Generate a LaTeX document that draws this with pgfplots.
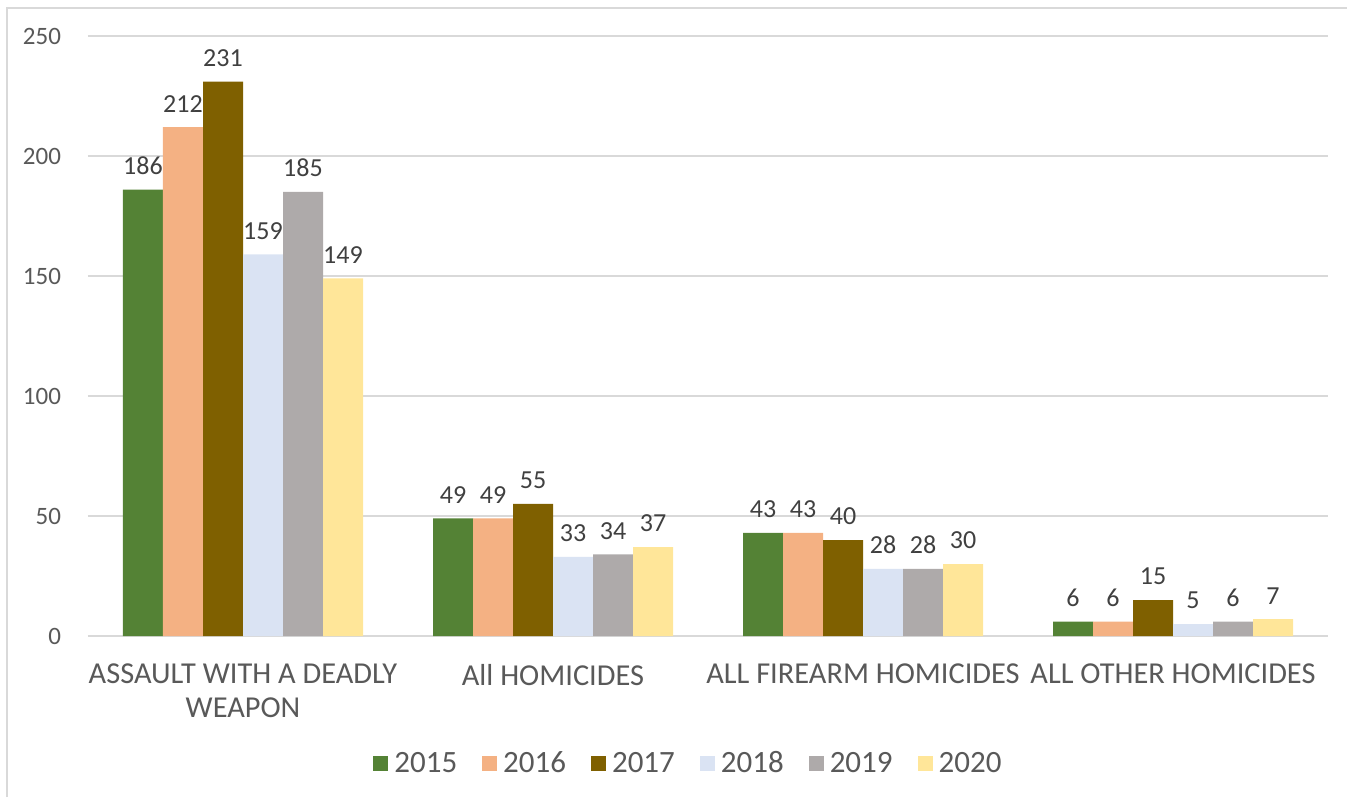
\documentclass[border=0pt]{standalone}
\usepackage{pgfplots}
\pgfplotsset{compat=1.18}
\usepackage{fontspec}
\setmainfont{Carlito}
\definecolor{cA}{HTML}{548235}
\definecolor{cB}{HTML}{F4B183}
\definecolor{cC}{HTML}{7F6000}
\definecolor{cD}{HTML}{DAE3F3}
\definecolor{cE}{HTML}{AEAAAA}
\definecolor{cF}{HTML}{FFE699}
\definecolor{gridgray}{HTML}{D9D9D9}
\definecolor{tickgray}{HTML}{595959}
\definecolor{labelgray}{HTML}{404040}
\begin{document}
\begin{tikzpicture}[x=1pt,y=1pt]
\path[use as bounding box] (0,0) rectangle (673.5,398.5);
\draw[gridgray, line width=1pt] (3.5,0) -- (3.5,394.5) -- (673.5,394.5);
\begin{axis}[
  at={(44pt,80.5pt)}, anchor=south west,
  scale only axis, width=620pt, height=300pt,
  xmin=-0.5, xmax=3.5, ymin=0, ymax=250,
  ybar=0pt, bar width=20pt,
  xtick={0,1,2,3},
  xticklabels={{ASSAULT WITH A DEADLY\\WEAPON},{All HOMICIDES},{ALL FIREARM HOMICIDES},{ALL OTHER HOMICIDES}},
  ytick={0,50,100,150,200,250},
  ymajorgrids, grid style={gridgray, line width=1pt},
  axis line style={draw=none},
  major tick length=0pt,
  /pgf/number format/assume math mode=true,
  ticklabel style={text=tickgray},
  yticklabel style={font=\fontsize{12.5}{15}\selectfont, xshift=-10pt},
  xticklabel style={font=\fontsize{15.2}{17}\selectfont, align=center, yshift=-10.5pt},
  nodes near coords,
  nodes near coords style={font=\fontsize{13}{14}\selectfont, text=labelgray, yshift=4pt},
  legend style={at={(0.485,-0.213)}, anchor=center, legend columns=6, draw=none,
    font=\fontsize{15.5}{18}\selectfont, text=tickgray,
    /tikz/every even column/.append style={column sep=10.5pt},
    /tikz/every odd column/.append style={column sep=1pt}},
  legend image code/.code={\fill[#1,draw=none] (0pt,-3.75pt) rectangle (7.5pt,3.75pt);},
]
\addplot[fill=cA,draw=none] coordinates {(0,186) (1,49) (2,43) (3,6)};
\addplot[fill=cB,draw=none] coordinates {(0,212) (1,49) (2,43) (3,6)};
\addplot[fill=cC,draw=none] coordinates {(0,231) (1,55) (2,40) (3,15)};
\addplot[fill=cD,draw=none] coordinates {(0,159) (1,33) (2,28) (3,5)};
\addplot[fill=cE,draw=none] coordinates {(0,185) (1,34) (2,28) (3,6)};
\addplot[fill=cF,draw=none] coordinates {(0,149) (1,37) (2,30) (3,7)};
\legend{2015,2016,2017,2018,2019,2020}
\end{axis}
\end{tikzpicture}
\end{document}
